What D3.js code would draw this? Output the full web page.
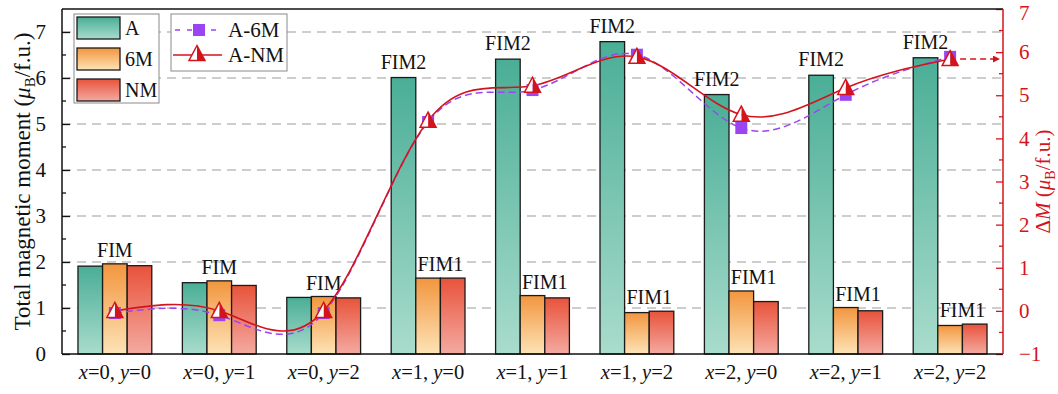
<!DOCTYPE html>
<html><head><meta charset="utf-8">
<script src="https://cdn.jsdelivr.net/npm/d3@7"></script>
<style>
html,body{margin:0;padding:0;background:#fff;}
svg{display:block;font-family:"Liberation Serif","Times New Roman",serif;}
</style></head>
<body>
<svg id="chart" width="1058" height="394"></svg>
<script>
const categories = ["x=0, y=0","x=0, y=1","x=0, y=2","x=1, y=0","x=1, y=1","x=1, y=2","x=2, y=0","x=2, y=1","x=2, y=2"];
const seriesNames = ["A","6M","NM"];
const valuesA  = [1.91,1.55,1.23,6.01,6.41,6.79,5.64,6.06,6.44];
const values6M = [1.96,1.59,1.25,1.65,1.27,0.90,1.37,1.01,0.62];
const valuesNM = [1.92,1.49,1.22,1.65,1.22,0.93,1.14,0.94,0.65];
const diffA6M  = [-0.05,-0.10,-0.05,4.38,5.12,5.94,4.24,5.01,5.89];
const diffANM  = [0.00,0.00,0.00,4.41,5.22,5.89,4.55,5.17,5.84];
const phaseTop = ["FIM","FIM","FIM","FIM2","FIM2","FIM2","FIM2","FIM2","FIM2"];
const phaseLow = ["","","","FIM1","FIM1","FIM1","FIM1","FIM1","FIM1"];
const leftTicks = [0,1,2,3,4,5,6,7];
const rightTicks = [-1,0,1,2,3,4,5,6,7];

const svg = d3.select("#chart");
const L = 62, R = 1003, T = 9, B = 354;
const red = "#d4141c", purple = "#9b45f2";

const x = d3.scaleBand().domain(categories).range([L, R]).paddingInner(0.293).paddingOuter(0.153);
const xs = d3.scaleBand().domain(seriesNames).range([0, x.bandwidth()]);
const y = d3.scaleLinear().domain([0, 7.5]).range([B, T]);
const y2 = d3.scaleLinear().domain([-1, 7]).range([B, T]);

// gradients
const defs = svg.append("defs");
const grads = {A:["#4aae96","#a9dccc"], "6M":["#f2963f","#fde3b6"], NM:["#e8533b","#f4aaa1"]};
Object.entries(grads).forEach(([k,[c1,c2]])=>{
  const g = defs.append("linearGradient").attr("id","g"+k).attr("x1",0).attr("y1",0).attr("x2",0).attr("y2",1);
  g.append("stop").attr("offset","0%").attr("stop-color",c1);
  g.append("stop").attr("offset","100%").attr("stop-color",c2);
});
defs.append("marker").attr("id","arrow").attr("viewBox","0 0 10 10").attr("refX",10).attr("refY",5)
  .attr("markerWidth",7).attr("markerHeight",7).attr("markerUnits","userSpaceOnUse")
  .append("path").attr("d","M0,0 L10,5 L0,10 Z").attr("fill",red);

// grid
svg.append("g").selectAll("line").data([1,2,3,4,5,6,7]).join("line")
  .attr("x1",L).attr("x2",R).attr("y1",d=>y(d)).attr("y2",d=>y(d))
  .attr("stroke","#bdbdbd").attr("stroke-width",1.5).attr("stroke-dasharray","9,6");

// bars
const series = {A:valuesA, "6M":values6M, NM:valuesNM};
const barData = [];
categories.forEach((c,i)=>seriesNames.forEach(s=>barData.push({c, s, v:series[s][i]})));
svg.append("g").selectAll("rect").data(barData).join("rect")
  .attr("x",d=>x(d.c)+xs(d.s)).attr("width",xs.bandwidth())
  .attr("y",d=>y(d.v)).attr("height",d=>B-y(d.v))
  .attr("fill",d=>`url(#g${d.s})`).attr("stroke","#1a1a1a").attr("stroke-width",1.3);

// phase labels
const lbl = svg.append("g").attr("font-size",20).attr("fill","#111").attr("text-anchor","middle");
categories.forEach((c,i)=>{
  if (phaseLow[i] === "") {
    const top = Math.max(valuesA[i], values6M[i], valuesNM[i]);
    lbl.append("text").attr("x",x(c)+x.bandwidth()/2).attr("y",y(top)-7).text(phaseTop[i]);
  } else {
    lbl.append("text").attr("x",x(c)+xs("A")+xs.bandwidth()/2).attr("y",y(valuesA[i])-9).text(phaseTop[i]);
    const top = Math.max(values6M[i], valuesNM[i]);
    lbl.append("text").attr("x",x(c)+xs("NM")).attr("y",y(top)-7).text(phaseLow[i]);
  }
});

// axes
const axL = svg.append("g").attr("transform",`translate(${L},0)`)
  .call(d3.axisLeft(y).tickValues(leftTicks).tickSize(-8).tickPadding(16).tickFormat(d3.format("d")));
axL.select(".domain").remove();
axL.selectAll("line").attr("stroke","#111").attr("stroke-width",1.3);
axL.selectAll("text").attr("font-size",21).attr("font-family","Liberation Serif").attr("fill","#111");
svg.append("g").selectAll("line").data(d3.range(0.5,7.5,1)).join("line")
  .attr("x1",L).attr("x2",L+4).attr("y1",d=>y(d)).attr("y2",d=>y(d)).attr("stroke","#111").attr("stroke-width",1.3);

const axR = svg.append("g").attr("transform",`translate(${R},0)`)
  .call(d3.axisRight(y2).tickValues(rightTicks).tickSize(-7).tickPadding(16).tickFormat(d3.format("d")));
axR.select(".domain").remove();
axR.selectAll("line").attr("stroke",red).attr("stroke-width",1.3);
axR.selectAll("text").attr("font-size",21).attr("font-family","Liberation Serif").attr("fill",red)
  .attr("dy",d=>d===7?"0.5em":"0.32em");
svg.append("g").selectAll("line").data(d3.range(-0.5,7,1)).join("line")
  .attr("x1",R-4).attr("x2",R).attr("y1",d=>y2(d)).attr("y2",d=>y2(d)).attr("stroke",red).attr("stroke-width",1.3);

// x labels
const xl = svg.append("g").attr("font-size",20.5).attr("fill","#111").attr("text-anchor","middle");
categories.forEach(c=>{
  const t = xl.append("text").attr("x",x(c)+x.bandwidth()/2).attr("y",379);
  c.split(/([xy])/).filter(s=>s!=="").forEach(p=>{
    t.append("tspan").attr("font-style",(p==="x"||p==="y")?"italic":"normal").text(p);
  });
});

// frame
svg.append("line").attr("x1",L).attr("x2",R).attr("y1",T).attr("y2",T).attr("stroke","#111").attr("stroke-width",1.5);
svg.append("line").attr("x1",L).attr("x2",L).attr("y1",T).attr("y2",B).attr("stroke","#111").attr("stroke-width",1.5);
svg.append("line").attr("x1",L).attr("x2",R).attr("y1",B).attr("y2",B).attr("stroke","#111").attr("stroke-width",1.5);
svg.append("line").attr("x1",R).attr("x2",R).attr("y1",T).attr("y2",B).attr("stroke",red).attr("stroke-width",1.5);

// lines
const cx = i => x(categories[i]) + x.bandwidth()/2;
const lineGen = d3.line().x((d,i)=>cx(i)).y(d=>y2(d)).curve(d3.curveNatural);
svg.append("path").attr("d",lineGen(diffA6M)).attr("fill","none").attr("stroke",purple)
  .attr("stroke-width",1.5).attr("stroke-dasharray","7,4");
svg.append("path").attr("d",lineGen(diffANM)).attr("fill","none").attr("stroke",red).attr("stroke-width",1.6);

// arrow
const last = categories.length-1;
svg.append("line").attr("x1",cx(last)+10).attr("x2",R-3)
  .attr("y1",y2(diffANM[last])).attr("y2",y2(diffANM[last]))
  .attr("stroke",red).attr("stroke-width",1.6).attr("stroke-dasharray","6,4").attr("marker-end","url(#arrow)");

// markers
function square(g, px, py, s){
  g.append("rect").attr("x",px-s/2).attr("y",py-s/2).attr("width",s).attr("height",s).attr("fill",purple);
}
function tri(g, px, py, w, h){
  g.append("path").attr("d",`M${px},${py-h/2} L${px+w/2},${py+h/2} L${px},${py+h/2} Z`).attr("fill",red);
  g.append("path").attr("d",`M${px},${py-h/2} L${px-w/2},${py+h/2} L${px},${py+h/2} Z`).attr("fill","#fff");
  g.append("path").attr("d",`M${px},${py-h/2} L${px+w/2},${py+h/2} L${px-w/2},${py+h/2} Z`)
    .attr("fill","none").attr("stroke",red).attr("stroke-width",1.5).attr("stroke-linejoin","miter");
}
const mk = svg.append("g");
diffA6M.forEach((v,i)=>square(mk, cx(i), y2(v), 12));
diffANM.forEach((v,i)=>tri(mk, cx(i), y2(v)-1, 16, 15));

// legend 1
const lg1 = svg.append("g");
lg1.append("rect").attr("x",74).attr("y",14).attr("width",85).attr("height",89)
  .attr("fill","#fff").attr("stroke","#8a8a8a").attr("stroke-width",1);
seriesNames.forEach((s,i)=>{
  lg1.append("rect").attr("x",77).attr("y",17+i*31).attr("width",43).attr("height",22)
    .attr("fill",`url(#g${s})`).attr("stroke","#1a1a1a").attr("stroke-width",1.3);
  lg1.append("text").attr("x",125).attr("y",35+i*31).attr("font-size",20).attr("fill","#111").text(s);
});
// legend 2
const lg2 = svg.append("g");
lg2.append("rect").attr("x",171).attr("y",14).attr("width",116).attr("height",57)
  .attr("fill","#fff").attr("stroke","#8a8a8a").attr("stroke-width",1);
lg2.append("line").attr("x1",174).attr("x2",223).attr("y1",30).attr("y2",30)
  .attr("stroke",purple).attr("stroke-width",1.5).attr("stroke-dasharray","5,7").attr("stroke-dashoffset",-1);
square(lg2, 199, 30, 12);
lg2.append("text").attr("x",228).attr("y",37).attr("font-size",21).attr("fill","#111").text("A-6M");
lg2.append("line").attr("x1",173).attr("x2",222).attr("y1",55).attr("y2",55).attr("stroke",red).attr("stroke-width",1.6);
tri(lg2, 197, 53, 16, 15);
lg2.append("text").attr("x",228).attr("y",62).attr("font-size",21).attr("fill","#111").text("A-NM");

// axis titles
const t1 = svg.append("text").attr("transform",`translate(30,${(T+B)/2}) rotate(-90)`)
  .attr("text-anchor","middle").attr("font-size",23).attr("fill","#111");
t1.append("tspan").text("Total magnetic moment (");
t1.append("tspan").attr("font-style","italic").text("μ");
t1.append("tspan").attr("font-size",15).attr("dy",5).text("B");
t1.append("tspan").attr("dy",-5).text("/f.u.)");

const t2 = svg.append("text").attr("transform",`translate(1050,${(T+B)/2}) rotate(-90)`)
  .attr("text-anchor","middle").attr("font-size",21).attr("fill",red);
t2.append("tspan").text("Δ");
t2.append("tspan").attr("font-style","italic").text("M");
t2.append("tspan").text(" (");
t2.append("tspan").attr("font-style","italic").text("μ");
t2.append("tspan").attr("font-size",14).attr("dy",5).text("B");
t2.append("tspan").attr("dy",-5).text("/f.u.)");
</script>
</body></html>
